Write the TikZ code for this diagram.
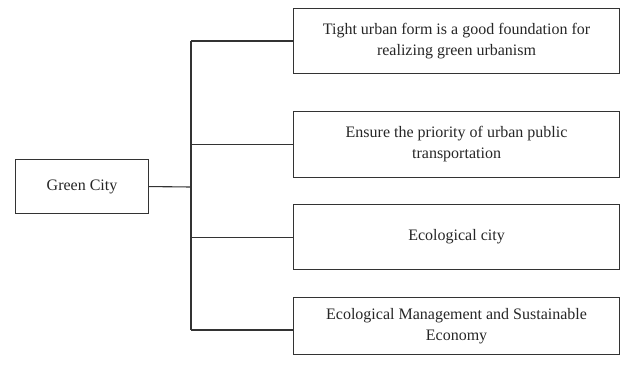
\documentclass[tikz,border=0pt]{standalone}
\usepackage{fontspec}
\setmainfont{Liberation Serif}
\begin{document}
\begin{tikzpicture}[x=1pt,y=-1pt,
  line width=1.1pt,
  linecol/.style={draw=black!80},
  box/.style={linecol, rectangle, inner sep=0pt, align=center,
    font=\fontsize{16}{21}\selectfont, text=black!85},
  item/.style={box, minimum width=326pt, anchor=north west},
  link/.style={linecol}]
  \useasboundingbox (0,0) rectangle (620,364);
  % root
  \node[box, minimum width=133pt, minimum height=54pt, anchor=north west] (root) at (15,159) {Green City};
  % branches
  \node[item, minimum height=65pt] (b1) at (293,8) {Tight urban form is a good foundation for\\realizing green urbanism};
  \node[item, minimum height=66pt] (b2) at (293,111) {Ensure the priority of urban public\\transportation};
  \node[item, minimum height=65pt] (b3) at (293,204) {Ecological city};
  \node[item, minimum height=57pt] (b4) at (293,297) {Ecological Management and Sustainable\\Economy};
  % trunk
  \coordinate (top) at (191,41);
  \coordinate (bot) at (191,330);
  \coordinate (mid) at (191,187);
  \draw[link] (root.east) -- (mid);
  \draw[link] (top) -- (bot);
  \draw[link] (top) -- (b1.west |- top);
  \draw[link] (top |- b2.west) -- (b2.west);
  \draw[link] (top |- b3.west) -- (b3.west);
  \draw[link] (bot) -- (b4.west |- bot);
\end{tikzpicture}
\end{document}
